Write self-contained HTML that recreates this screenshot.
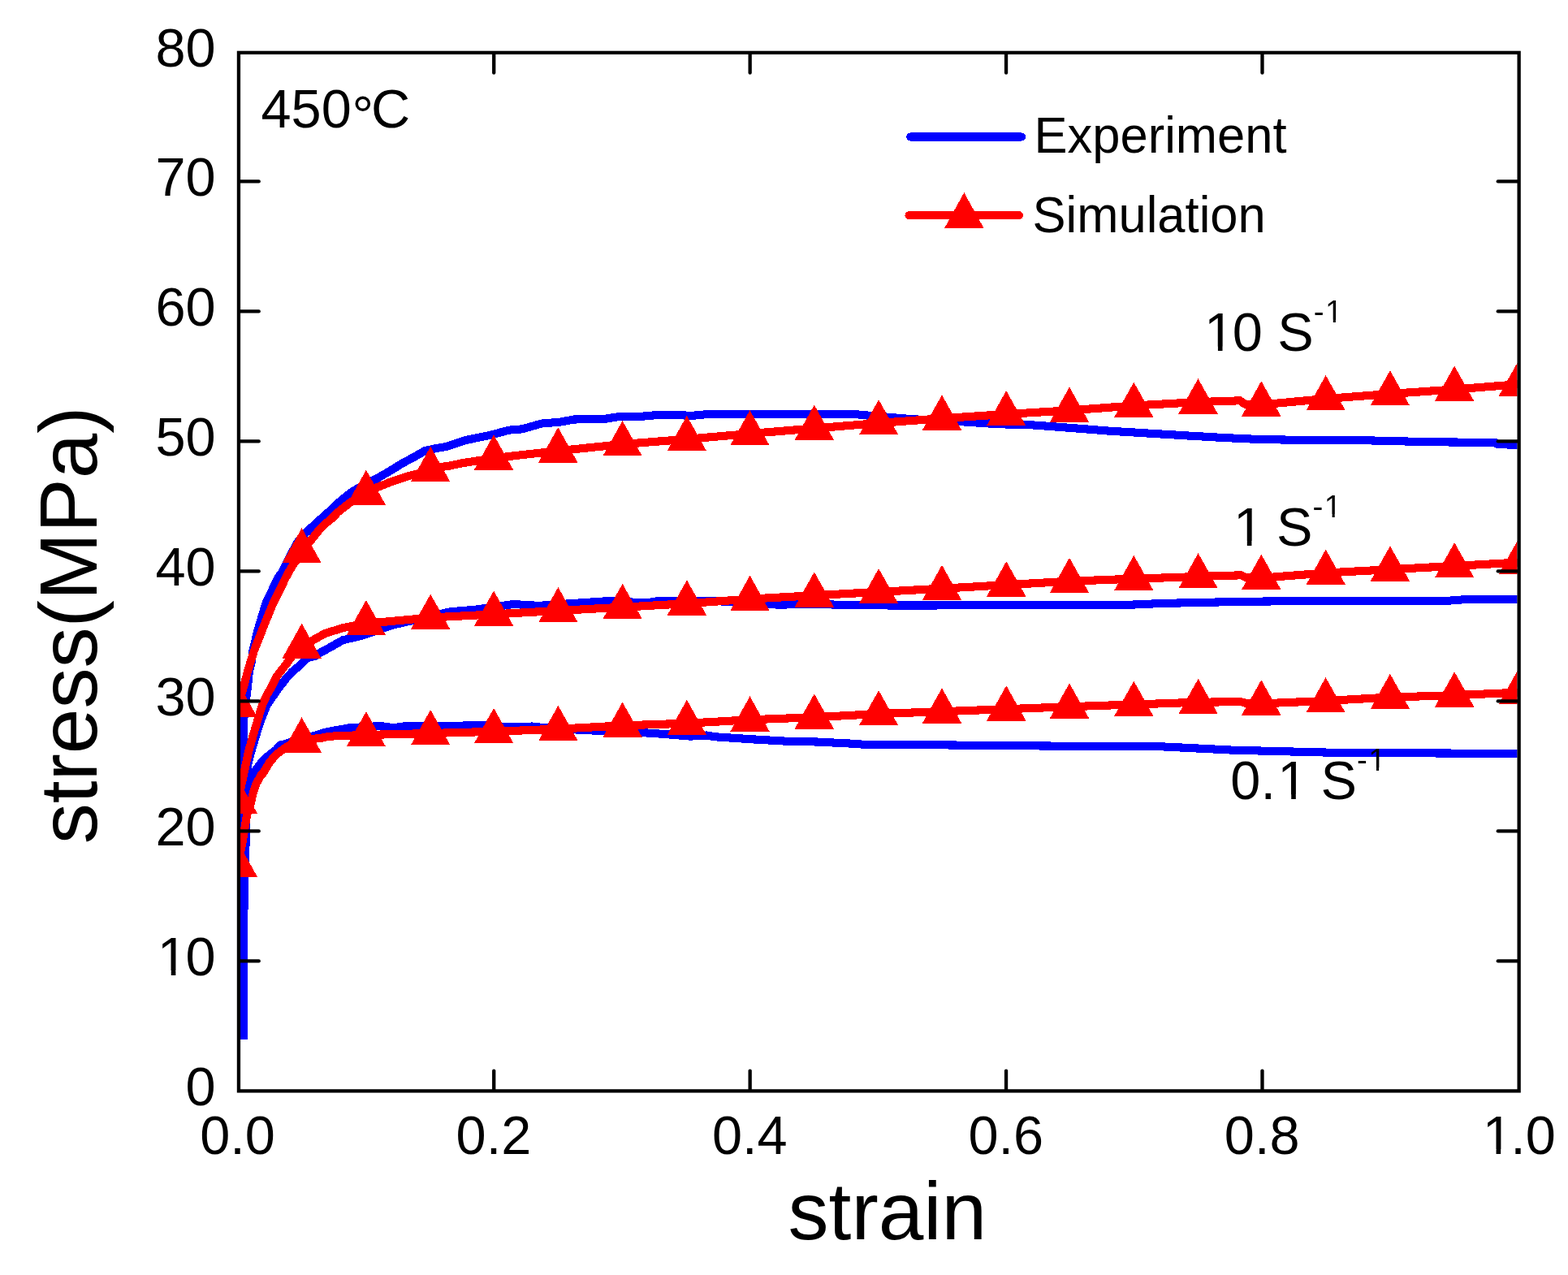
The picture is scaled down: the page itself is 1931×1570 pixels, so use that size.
<!DOCTYPE html>
<html lang="en"><head><meta charset="utf-8">
<style>html,body{margin:0;padding:0;background:#fff}body{width:1931px;height:1570px;overflow:hidden}svg{display:block}text{font-family:"Liberation Sans", sans-serif;fill:#000}</style>
</head><body>
<svg width="1931" height="1570" viewBox="0 0 1931 1570">
<rect width="1931" height="1570" fill="#fff"/>
<defs><clipPath id="plot"><rect x="293.95" y="64.85" width="1574.60" height="1278.5500000000002"/></clipPath></defs>
<g clip-path="url(#plot)" shape-rendering="crispEdges">
<g fill="none" stroke="#0000ff" stroke-width="10.1" stroke-linejoin="round" stroke-linecap="butt">
<polyline points="299.9,1280.0 299.6,905.0 300.6,880.0 303.5,857.0 305.0,845.0 307.0,826.0 309.5,816.0 311.5,801.0 317.5,776.0 327.6,742.4 342.5,711.2 347.2,705.0 350.9,698.0 358.5,682.2 367.8,665.6 376.0,656.8 384.0,649.1 392.0,641.8 399.6,635.0 409.1,626.6 416.0,619.7 424.0,613.0 432.0,606.9 436.0,604.0 450.0,596.5 464.0,589.3 472.0,584.7 480.0,580.1 496.0,570.2 504.0,566.0 512.0,561.6 522.9,555.3 536.0,552.2 544.0,551.0 552.0,549.3 574.6,541.8 605.7,535.4 626.4,529.7 643.3,528.3 666.6,521.6 690.0,519.6 707.0,516.5 744.4,515.9 759.9,513.4 791.0,512.7 814.3,510.6 853.2,511.8 868.7,510.3 915.4,509.6 977.7,510.3 1055.4,510.3 1071.0,511.8 1109.9,515.1 1125.4,516.3 1187.6,519.5 1226.6,522.1 1273.3,523.5 1319.9,527.0 1366.5,530.7 1413.2,533.5 1459.8,536.3 1506.6,539.0 1553.3,541.1 1599.9,541.8 1677.6,542.2 1724.3,543.3 1757.7,544.2 1841.4,545.0 1842.6,546.6 1856.4,546.6 1857.6,547.8 1871.0,547.8"/>
<polyline points="299.9,1280.0 300.8,1000.0 302.5,975.0 305.5,940.0 309.5,924.9 315.0,906.2 321.0,887.5 328.5,868.7 337.0,856.2 344.0,846.3 352.0,835.9 360.0,827.0 362.0,825.5 370.0,818.8 378.0,810.8 381.0,809.3 388.0,808.0 396.0,802.6 398.8,801.5 422.1,788.3 445.4,782.7 484.3,769.5 554.3,753.3 585.5,750.7 632.2,744.0 663.3,745.9 709.9,742.7 748.8,740.1 795.4,742.4 811.0,740.1 865.4,739.6 888.9,740.5 958.8,744.7 1005.4,743.6 1036.5,745.0 1098.7,745.5 1150.0,745.5 1207.7,744.9 1285.4,745.0 1394.3,744.6 1430.0,743.0 1487.7,741.7 1549.9,740.6 1612.1,740.0 1710.0,740.0 1785.4,739.6 1801.0,738.4 1871.0,738.2"/>
<polyline points="299.9,1280.0 300.6,1085.0 302.4,1055.0 302.6,1020.0 302.5,1000.0 304.0,980.0 307.0,965.0 312.0,952.0 321.0,940.0 324.0,936.4 332.0,929.3 340.0,923.3 345.5,917.2 352.0,916.0 362.0,912.5 380.0,907.5 388.0,905.9 396.0,903.1 404.0,901.0 429.9,896.3 468.8,894.0 484.3,896.3 499.9,894.0 554.3,894.0 593.3,892.9 632.2,895.5 655.5,894.5 671.0,896.3 709.9,898.5 725.4,899.3 795.4,902.4 818.7,904.0 849.8,906.6 870.0,905.5 881.1,907.3 927.7,910.4 966.6,912.6 1005.4,913.5 1044.3,915.4 1067.6,917.0 1106.5,917.3 1150.0,917.3 1285.4,918.5 1394.3,919.3 1430.0,919.3 1518.8,923.7 1643.2,926.8 1738.8,927.3 1871.0,928.0"/>
</g>
<g fill="none" stroke="#ff0000" stroke-width="10.1" stroke-linejoin="round" stroke-linecap="butt">
<polyline points="292.8,869.0 300.3,845.0 305.1,826.2 312.9,801.2 322.8,776.2 326.2,767.4 336.5,742.4 352.0,711.2 355.2,705.0 359.4,698.0 371.7,679.8 384.0,663.9 392.0,653.9 399.6,645.8 409.1,638.0 416.0,630.8 424.0,624.4 432.0,618.2 450.9,607.6 464.0,600.2 472.0,597.2 480.0,593.9 496.0,588.4 504.0,585.9 512.0,584.0 530.2,578.8 544.0,574.9 552.0,573.9 569.5,570.2 608.0,564.3 636.8,560.8 687.3,555.2 766.6,547.0 845.8,540.8 923.5,534.0 1002.8,527.5 1082.1,521.0 1160.0,515.2 1239.2,510.0 1317.0,505.4 1396.3,499.5 1475.5,495.1 1527.0,493.3 1533.0,497.6 1553.3,498.4 1632.7,491.0 1711.9,485.0 1791.1,479.5 1869.9,473.2"/>
<polyline points="292.8,987.4 302.2,943.6 306.2,924.9 311.5,906.2 317.1,887.5 322.8,868.7 328.4,856.2 332.1,850.0 337.4,839.9 341.2,832.4 344.0,828.7 352.0,818.5 360.0,807.5 371.6,797.2 388.0,786.8 396.0,782.4 400.0,780.2 422.1,773.1 450.9,767.8 530.2,760.5 608.1,756.4 687.4,752.0 766.6,747.7 845.9,743.2 923.5,737.6 1002.8,733.2 1082.1,728.9 1160.0,724.7 1239.3,720.2 1317.0,715.7 1396.3,712.7 1475.6,710.0 1528.5,708.3 1534.5,711.2 1553.3,711.7 1632.7,705.5 1711.9,701.2 1791.2,696.9 1869.9,692.6"/>
<polyline points="292.8,1065.4 298.0,1040.0 303.2,1008.7 304.5,1002.4 308.5,989.9 311.5,977.5 315.5,965.0 321.5,954.5 324.0,952.0 332.0,938.7 340.0,929.3 344.0,926.2 352.0,920.5 360.0,915.5 371.6,912.4 388.0,909.6 396.0,908.7 404.0,907.0 414.4,906.2 450.9,905.0 530.2,903.0 608.1,900.8 687.4,897.7 766.6,893.4 845.9,890.7 923.5,886.3 1002.8,883.2 1082.1,879.0 1160.0,876.2 1239.3,873.2 1317.0,870.2 1396.3,867.5 1475.6,864.7 1528.5,864.2 1534.5,866.0 1553.3,866.4 1632.6,863.0 1711.9,858.6 1791.2,856.1 1869.9,852.7"/>
</g>
<g fill="#ff0000">
<polygon points="292.8,840.1 317.0,883.4 268.6,883.4"/>
<polygon points="371.7,650.1 395.9,693.4 347.5,693.4"/>
<polygon points="450.9,578.7 475.1,622.0 426.7,622.0"/>
<polygon points="530.2,549.9 554.4,593.2 506.0,593.2"/>
<polygon points="608.0,535.4 632.2,578.7 583.8,578.7"/>
<polygon points="687.3,526.3 711.5,569.6 663.1,569.6"/>
<polygon points="766.6,518.1 790.8,561.4 742.4,561.4"/>
<polygon points="845.8,511.9 870.0,555.2 821.6,555.2"/>
<polygon points="923.5,505.1 947.7,548.4 899.3,548.4"/>
<polygon points="1002.8,498.6 1027.0,541.9 978.6,541.9"/>
<polygon points="1082.1,492.1 1106.3,535.4 1057.9,535.4"/>
<polygon points="1160.0,486.3 1184.2,529.6 1135.8,529.6"/>
<polygon points="1239.2,481.1 1263.4,524.4 1215.0,524.4"/>
<polygon points="1317.0,476.5 1341.2,519.8 1292.8,519.8"/>
<polygon points="1396.3,470.6 1420.5,513.9 1372.1,513.9"/>
<polygon points="1475.5,466.2 1499.7,509.5 1451.3,509.5"/>
<polygon points="1553.3,469.3 1577.5,512.6 1529.1,512.6"/>
<polygon points="1632.7,462.1 1656.9,505.4 1608.5,505.4"/>
<polygon points="1711.9,456.1 1736.1,499.4 1687.7,499.4"/>
<polygon points="1791.1,450.6 1815.3,493.9 1766.9,493.9"/>
<polygon points="1869.9,444.3 1894.1,487.6 1845.7,487.6"/>
<polygon points="292.8,958.5 317.0,1001.8 268.6,1001.8"/>
<polygon points="371.6,767.7 395.8,811.0 347.4,811.0"/>
<polygon points="450.9,738.9 475.1,782.2 426.7,782.2"/>
<polygon points="530.2,731.6 554.4,774.9 506.0,774.9"/>
<polygon points="608.1,727.5 632.3,770.8 583.9,770.8"/>
<polygon points="687.4,723.1 711.6,766.4 663.2,766.4"/>
<polygon points="766.6,718.8 790.8,762.1 742.4,762.1"/>
<polygon points="845.9,714.3 870.1,757.6 821.7,757.6"/>
<polygon points="923.5,708.7 947.7,752.0 899.3,752.0"/>
<polygon points="1002.8,704.3 1027.0,747.6 978.6,747.6"/>
<polygon points="1082.1,700.0 1106.3,743.3 1057.9,743.3"/>
<polygon points="1160.0,695.8 1184.2,739.1 1135.8,739.1"/>
<polygon points="1239.3,691.3 1263.5,734.6 1215.1,734.6"/>
<polygon points="1317.0,686.8 1341.2,730.1 1292.8,730.1"/>
<polygon points="1396.3,683.8 1420.5,727.1 1372.1,727.1"/>
<polygon points="1475.6,681.1 1499.8,724.4 1451.4,724.4"/>
<polygon points="1553.3,682.6 1577.5,725.9 1529.1,725.9"/>
<polygon points="1632.7,676.6 1656.9,719.9 1608.5,719.9"/>
<polygon points="1711.9,672.3 1736.1,715.6 1687.7,715.6"/>
<polygon points="1791.2,668.0 1815.4,711.3 1767.0,711.3"/>
<polygon points="1869.9,663.7 1894.1,707.0 1845.7,707.0"/>
<polygon points="292.8,1036.5 317.0,1079.8 268.6,1079.8"/>
<polygon points="371.6,883.3 395.8,926.6 347.4,926.6"/>
<polygon points="450.9,876.1 475.1,919.4 426.7,919.4"/>
<polygon points="530.2,874.1 554.4,917.4 506.0,917.4"/>
<polygon points="608.1,871.9 632.3,915.2 583.9,915.2"/>
<polygon points="687.4,868.8 711.6,912.1 663.2,912.1"/>
<polygon points="766.6,864.5 790.8,907.8 742.4,907.8"/>
<polygon points="845.9,861.8 870.1,905.1 821.7,905.1"/>
<polygon points="923.5,857.4 947.7,900.7 899.3,900.7"/>
<polygon points="1002.8,854.3 1027.0,897.6 978.6,897.6"/>
<polygon points="1082.1,850.1 1106.3,893.4 1057.9,893.4"/>
<polygon points="1160.0,847.3 1184.2,890.6 1135.8,890.6"/>
<polygon points="1239.3,844.3 1263.5,887.6 1215.1,887.6"/>
<polygon points="1317.0,841.3 1341.2,884.6 1292.8,884.6"/>
<polygon points="1396.3,838.6 1420.5,881.9 1372.1,881.9"/>
<polygon points="1475.6,835.8 1499.8,879.1 1451.4,879.1"/>
<polygon points="1553.3,837.3 1577.5,880.6 1529.1,880.6"/>
<polygon points="1632.6,834.1 1656.8,877.4 1608.4,877.4"/>
<polygon points="1711.9,829.7 1736.1,873.0 1687.7,873.0"/>
<polygon points="1791.2,827.2 1815.4,870.5 1767.0,870.5"/>
<polygon points="1869.9,823.8 1894.1,867.1 1845.7,867.1"/>
</g></g>
<g fill="none" stroke-width="10.1" stroke-linecap="round" shape-rendering="crispEdges">
<line x1="1121.2" y1="168.5" x2="1257.9" y2="168.5" stroke="#0000ff"/>
<line x1="1119.5" y1="265.2" x2="1255.0" y2="265.2" stroke="#ff0000"/>
</g>
<polygon fill="#ff0000" shape-rendering="crispEdges" points="1187.3,237.1 1211.3,280.5 1163.3,280.5"/>
<g fill="none" stroke="#000" stroke-width="4.3" stroke-linecap="butt">
<rect x="293.95" y="64.85" width="1576.70" height="1278.55"/>
</g>
<g fill="none" stroke="#000" stroke-width="4.3" stroke-linecap="round">
<line x1="294.95" y1="1183.40" x2="318.75" y2="1183.40"/>
<line x1="1869.65" y1="1183.40" x2="1844.75" y2="1183.40"/>
<line x1="294.95" y1="1023.40" x2="318.75" y2="1023.40"/>
<line x1="1869.65" y1="1023.40" x2="1844.75" y2="1023.40"/>
<line x1="294.95" y1="863.40" x2="318.75" y2="863.40"/>
<line x1="1869.65" y1="863.40" x2="1844.75" y2="863.40"/>
<line x1="294.95" y1="703.40" x2="318.75" y2="703.40"/>
<line x1="1869.65" y1="703.40" x2="1844.75" y2="703.40"/>
<line x1="294.95" y1="543.40" x2="318.75" y2="543.40"/>
<line x1="1869.65" y1="543.40" x2="1844.75" y2="543.40"/>
<line x1="294.95" y1="383.40" x2="318.75" y2="383.40"/>
<line x1="1869.65" y1="383.40" x2="1844.75" y2="383.40"/>
<line x1="294.95" y1="223.40" x2="318.75" y2="223.40"/>
<line x1="1869.65" y1="223.40" x2="1844.75" y2="223.40"/>
<line x1="608.22" y1="1342.4" x2="608.22" y2="1318.60"/>
<line x1="608.22" y1="65.85" x2="608.22" y2="89.65"/>
<line x1="923.64" y1="1342.4" x2="923.64" y2="1318.60"/>
<line x1="923.64" y1="65.85" x2="923.64" y2="89.65"/>
<line x1="1239.06" y1="1342.4" x2="1239.06" y2="1318.60"/>
<line x1="1239.06" y1="65.85" x2="1239.06" y2="89.65"/>
<line x1="1554.48" y1="1342.4" x2="1554.48" y2="1318.60"/>
<line x1="1554.48" y1="65.85" x2="1554.48" y2="89.65"/>
</g>
<g>
<text transform="translate(228.52,1360.80) scale(1,1.01)" font-size="66.67">0</text>
<clipPath id="k1"><path clip-rule="evenodd" d="M-50,-150H400V100H-50Z M4.40,-5.68H19.32V1.50H4.40Z M24.90,-5.68H39.07V1.50H24.90Z"/></clipPath><text transform="translate(191.44,1200.80) scale(1,1.01)" font-size="66.67" dx="2.40 -2.40" clip-path="url(#k1)">10</text>
<text transform="translate(191.44,1040.80) scale(1,1.01)" font-size="66.67">20</text>
<text transform="translate(191.44,880.80) scale(1,1.01)" font-size="66.67">30</text>
<text transform="translate(191.44,720.80) scale(1,1.01)" font-size="66.67">40</text>
<text transform="translate(191.44,560.80) scale(1,1.01)" font-size="66.67">50</text>
<text transform="translate(191.44,400.80) scale(1,1.01)" font-size="66.67">60</text>
<text transform="translate(191.44,240.80) scale(1,1.01)" font-size="66.67">70</text>
<text transform="translate(191.44,82.10) scale(1,1.01)" font-size="66.67">80</text>
<text transform="translate(246.16,1421.00) scale(1,1.01)" font-size="66.67">0.0</text>
<text transform="translate(561.58,1421.00) scale(1,1.01)" font-size="66.67">0.2</text>
<text transform="translate(877.00,1421.00) scale(1,1.01)" font-size="66.67">0.4</text>
<text transform="translate(1192.42,1421.00) scale(1,1.01)" font-size="66.67">0.6</text>
<text transform="translate(1507.84,1421.00) scale(1,1.01)" font-size="66.67">0.8</text>
<clipPath id="k2"><path clip-rule="evenodd" d="M-50,-150H400V100H-50Z M4.40,-5.68H19.32V1.50H4.40Z M24.90,-5.68H39.07V1.50H24.90Z"/></clipPath><text transform="translate(1823.26,1421.00) scale(1,1.01)" font-size="66.67" dx="2.40 -2.40 -0.00" clip-path="url(#k2)">1.0</text>
</g>
<text transform="translate(970.60,1526.30)" font-size="100" text-anchor="start">strain</text>
<text transform="translate(119.2,1039.3) rotate(-90)" font-size="100">stress(MPa)</text>
<text transform="translate(1273.50,188.30) scale(1,1.015)" font-size="61.5" text-anchor="start">Experiment</text>
<text transform="translate(1271.60,285.90) scale(1,1.015)" font-size="61.5" text-anchor="start">Simulation</text>
<text transform="translate(321.5,157.1) scale(1,1.01)" font-size="66.67">450<tspan x="111.9" dy="7.7">°</tspan><tspan x="135.4" dy="-7.7">C</tspan></text>
<clipPath id="k3"><path clip-rule="evenodd" d="M-50,-150H400V100H-50Z M4.40,-5.68H19.32V1.50H4.40Z M24.90,-5.68H39.07V1.50H24.90Z M152.52,-38.28H161.19V-33.20H152.52Z M164.29,-38.28H172.54V-33.20H164.29Z"/></clipPath><text transform="translate(1480.60,432.40) scale(1,1.01)" font-size="66.67" dx="2.40 -2.40 -0.00 -0.00" clip-path="url(#k3)">10 S<tspan dy="-34.7" dx="-0.00 1.39" font-size="38.5">-1</tspan></text>
<clipPath id="k4"><path clip-rule="evenodd" d="M-50,-150H400V100H-50Z M4.40,-5.68H19.32V1.50H4.40Z M24.90,-5.68H39.07V1.50H24.90Z M115.43,-38.28H124.11V-33.20H115.43Z M127.21,-38.28H135.45V-33.20H127.21Z"/></clipPath><text transform="translate(1516.50,671.90) scale(1,1.01)" font-size="66.67" dx="2.40 -2.40 -0.00" clip-path="url(#k4)">1 S<tspan dy="-34.7" dx="-0.00 1.39" font-size="38.5">-1</tspan></text>
<clipPath id="k5"><path clip-rule="evenodd" d="M-50,-150H400V100H-50Z M60.00,-5.68H74.92V1.50H60.00Z M80.51,-5.68H94.67V1.50H80.51Z M171.04,-38.28H179.71V-33.20H171.04Z M182.81,-38.28H191.06V-33.20H182.81Z"/></clipPath><text transform="translate(1515.30,983.90) scale(1,1.01)" font-size="66.67" dx="-0.00 -0.00 2.40 -2.40 -0.00" clip-path="url(#k5)">0.1 S<tspan dy="-34.7" dx="-0.00 1.39" font-size="38.5">-1</tspan></text>
</svg></body></html>
